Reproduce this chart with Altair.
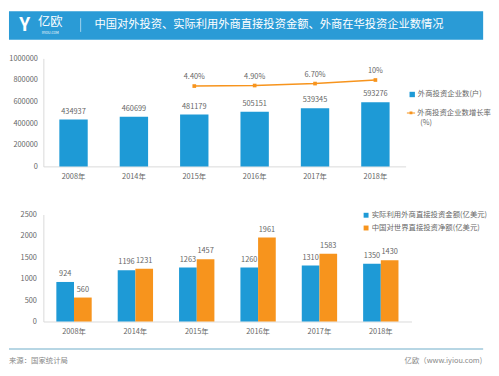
import altair as alt
import pandas as pd

years = ["2008年", "2014年", "2015年", "2016年", "2017年", "2018年"]
firms = [434937, 460699, 481179, 505151, 539345, 593276]
growth_years = ["2015年", "2016年", "2017年", "2018年"]
growth = [4.4, 4.9, 6.7, 10.0]
growth_labels = ["4.40%", "4.90%", "6.70%", "10%"]
fdi_in = [924, 1196, 1263, 1260, 1310, 1350]
odi_out = [560, 1231, 1457, 1961, 1583, 1430]
series_names = ["实际利用外商直接投资金额(亿美元)", "中国对世界直接投资净额(亿美元)"]
firm_series = "外商投资企业数(户)"
rate_series = "外商投资企业数增长率"
rate_unit = "(%)"
title_text = "中国对外投资、实际利用外商直接投资金额、外商在华投资企业数情况"
source_text = "来源：国家统计局"
brand_text = "亿欧（www.iyiou.com)"
bot_ticks = [0, 500, 1000, 1500, 2000, 2500]
top_ticks = [0, 200000, 400000, 600000, 800000, 1000000]

BLUE = "#1e9ad6"
ORANGE = "#f7941d"
HEADER = "#2a9bd6"
GRAY = "#666666"
AXIS = "#d9d9d9"
FONT = "Noto Sans CJK SC"
FS = 7.5

# ---------------- top chart ----------------
top_df = pd.DataFrame({"year": years, "value": firms, "series": firm_series})
line_df = pd.DataFrame({"year": growth_years, "rate": growth, "label": growth_labels,
                        "series": rate_series})

x_top = alt.X("year:N", sort=years, title=None,
              scale=alt.Scale(domain=years, paddingInner=0.53, paddingOuter=0.265),
              axis=alt.Axis(labelAngle=0, ticks=False, domainColor=AXIS, labelColor=GRAY,
                            labelFontSize=FS, labelPadding=6))
y_firm = alt.Scale(domain=[0, 1000000])
y_rate = alt.Scale(domain=[-70, 30])

bars = alt.Chart(top_df).mark_bar().encode(
    x=x_top,
    y=alt.Y("value:Q", scale=y_firm, title=None,
            axis=alt.Axis(values=top_ticks, format="d",
                          grid=False, ticks=False, domainColor=AXIS, labelColor=GRAY,
                          labelFontSize=FS, labelPadding=6, labelOverlap=False)),
    fill=alt.Fill("series:N", scale=alt.Scale(range=[BLUE]),
                  legend=alt.Legend(orient="none", legendX=372, legendY=33, title=None,
                                    symbolType="square", symbolSize=30, symbolStrokeWidth=0,
                                    labelFontSize=FS, labelColor=GRAY, labelOffset=2)),
)
bar_text = alt.Chart(top_df).mark_text(baseline="bottom", dy=-4, fontSize=FS, color=GRAY).encode(
    x=x_top, y=alt.Y("value:Q", scale=y_firm, axis=None),
    text=alt.Text("value:Q", format="d"))

line = alt.Chart(line_df).mark_line(strokeWidth=1.5).encode(
    x=x_top, y=alt.Y("rate:Q", scale=y_rate, axis=None),
    stroke=alt.Stroke("series:N", scale=alt.Scale(range=[ORANGE]),
                      legend=alt.Legend(orient="none", legendX=370, legendY=51, title=None,
                                        symbolType="M-1,-0.12H1V0.12H-1Z M-0.35,-0.35H0.35V0.35H-0.35Z",
                                        symbolFillColor=ORANGE, symbolStrokeWidth=0,
                                        symbolSize=70, labelFontSize=FS, labelColor=GRAY,
                                        labelOffset=2, labelLimit=200)))
pts = alt.Chart(line_df).mark_square(size=14, color=ORANGE, opacity=1).encode(
    x=x_top, y=alt.Y("rate:Q", scale=y_rate, axis=None))
line_text = alt.Chart(line_df).mark_text(baseline="bottom", dy=-5, fontSize=FS, color=GRAY).encode(
    x=x_top, y=alt.Y("rate:Q", scale=y_rate, axis=None), text="label:N")

unit_df = pd.DataFrame({"unit": [rate_unit]})
unit_mark = alt.Chart(unit_df).mark_text(align="left", baseline="middle", fontSize=FS,
                                         color=GRAY).encode(
    x=alt.value(384), y=alt.value(66), text="unit:N")

head_df = pd.DataFrame({"title": [title_text], "logo": ["亿欧"], "sub": ["IYIOU.COM"], "icon": ["Y"]})
band = alt.Chart(head_df).mark_rect(color=HEADER).encode(
    x=alt.value(-35), x2=alt.value(448), y=alt.value(-48), y2=alt.value(-19))
title_mark = alt.Chart(head_df).mark_text(align="left", baseline="middle", fontSize=11.5,
                                          color="white").encode(
    x=alt.value(52), y=alt.value(-34), text="title:N")
logo_mark = alt.Chart(head_df).mark_text(align="center", baseline="middle", fontSize=12.5,
                                         color="white").encode(
    x=alt.value(7), y=alt.value(-37), text="logo:N")
sub_mark = alt.Chart(head_df).mark_text(align="center", baseline="middle", fontSize=3.5,
                                        color="white").encode(
    x=alt.value(7), y=alt.value(-26), text="sub:N")
icon_mark = alt.Chart(head_df).mark_text(align="center", baseline="middle", fontSize=19,
                                         fontWeight="bold", color="white").encode(
    x=alt.value(-19), y=alt.value(-34), text="icon:N")
sep = alt.Chart(head_df).mark_rule(color="white", strokeWidth=0.8, opacity=0.7).encode(
    x=alt.value(38), y=alt.value(-41), y2=alt.value(-27))

top = alt.layer(band, title_mark, logo_mark, sub_mark, icon_mark, sep,
                bars, bar_text, line, pts, line_text, unit_mark).resolve_scale(
    y="independent").properties(width=369, height=110)

# ---------------- bottom chart ----------------
rows = []
for yr, a, b in zip(years, fdi_in, odi_out):
    rows.append({"year": yr, "series": series_names[0], "value": a})
    rows.append({"year": yr, "series": series_names[1], "value": b})
bot_df = pd.DataFrame(rows)

x_bot = alt.X("year:N", sort=years, title=None,
              scale=alt.Scale(domain=years, paddingInner=0.424, paddingOuter=0.212),
              axis=alt.Axis(labelAngle=0, ticks=False, domainColor=AXIS, labelColor=GRAY,
                            labelFontSize=FS, labelPadding=6))
xo = alt.XOffset("series:N", sort=series_names, scale=alt.Scale(domain=series_names, paddingInner=0))
y_bot = alt.Y("value:Q", scale=alt.Scale(domain=[0, 2500]), title=None,
              axis=alt.Axis(values=bot_ticks, format="d", grid=False,
                            ticks=False, domainColor=AXIS, labelColor=GRAY, labelFontSize=FS,
                            labelPadding=7, labelOverlap=False))

gbars = alt.Chart(bot_df).mark_bar().encode(
    x=x_bot, xOffset=xo, y=y_bot,
    color=alt.Color("series:N", sort=series_names,
                    scale=alt.Scale(domain=series_names, range=[BLUE, ORANGE]),
                    legend=alt.Legend(orient="none", legendX=325, legendY=-3, title=None,
                                      symbolType="square", symbolSize=25, symbolStrokeWidth=0,
                                      labelFontSize=FS, labelColor=GRAY, labelOffset=2,
                                      rowPadding=4, labelLimit=200)))
gtext = alt.Chart(bot_df).mark_text(baseline="bottom", dy=-4, fontSize=FS, color=GRAY).encode(
    x=x_bot, xOffset=xo, y=y_bot,
    text=alt.Text("value:Q", format="d"))

foot_df = pd.DataFrame({"src": [source_text], "brand": [brand_text]})
foot_line = alt.Chart(foot_df).mark_rule(color="#9fc8db", strokeWidth=1.5).encode(
    x=alt.value(-35), x2=alt.value(448), y=alt.value(137))
foot_src = alt.Chart(foot_df).mark_text(align="left", baseline="middle", fontSize=FS,
                                        color="#888888").encode(
    x=alt.value(-35), y=alt.value(149), text="src:N")
foot_brand = alt.Chart(foot_df).mark_text(align="right", baseline="middle", fontSize=FS,
                                          color="#888888").encode(
    x=alt.value(447), y=alt.value(149), text="brand:N")

bottom = alt.layer(gbars, gtext, foot_line, foot_src, foot_brand).properties(width=375, height=109)

chart = alt.vconcat(top, bottom, spacing=49, bounds="flush").properties(
    padding=0
).configure(font=FONT).configure_view(stroke=None).resolve_scale(color="independent")

chart.save("out.html", embed_options={"renderer": "svg", "actions": False})
